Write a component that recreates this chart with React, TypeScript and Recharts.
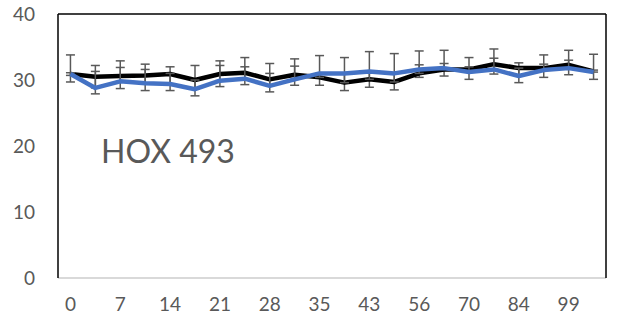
import * as React from "react";
import { LineChart, Line, XAxis, YAxis, ErrorBar, ReferenceLine } from "recharts";

// days (only every other one is labelled on the axis)
const days = ["0", "3", "7", "10", "14", "17", "21", "24", "28", "31", "35", "38", "43", "49", "56", "63", "70", "77", "84", "91", "99", "106"];

const blackLine = [30.9, 30.5, 30.6, 30.7, 30.9, 30.0, 30.9, 31.1, 30.1, 30.8, 30.4, 29.6, 30.1, 29.7, 31.0, 31.6, 31.6, 32.4, 31.8, 31.8, 32.3, 31.3];
const blueLine = [30.9, 28.8, 29.8, 29.5, 29.4, 28.6, 29.9, 30.2, 29.1, 30.1, 31.0, 31.0, 31.3, 31.0, 31.6, 31.8, 31.2, 31.6, 30.6, 31.5, 31.8, 31.2];

// error bars as [minus, plus]
const blackErrLow = [0.2, 1.7, 0.8, 1.2, 1.5, 1.4, 1.0, 0.9, 1.0, 0.7, 1.2, 1.2, 1.2, 1.2, 0.6, 1.0, 0.4, 0.8, 1.2, 0.3, 0.5, 0.1];
const blackErrHigh = [2.9, 1.7, 2.3, 1.7, 1.1, 2.2, 2.0, 2.3, 2.4, 2.4, 0.6, 1.4, 1.2, 1.3, 1.3, 0.9, 1.8, 2.3, 0.8, 2.0, 2.2, 2.6];
const blueErrLow = [1.2, 0.9, 1.1, 1.1, 1.0, 1.0, 0.9, 0.9, 0.9, 0.9, 0.6, 1.4, 1.2, 1.3, 0.6, 0.2, 1.1, 0.7, 1.0, 1.1, 1.0, 1.1];
const blueErrHigh = [0.2, 2.5, 2.1, 2.1, 1.6, 1.4, 2.3, 1.8, 1.9, 2.0, 2.7, 2.4, 3.0, 3.0, 2.8, 2.7, 0.8, 1.7, 1.2, 0.9, 1.2, 0.3];

const yTicks = [0, 10, 20, 30, 40];

const data = days.map((day, i) => ({
  day,
  black: blackLine[i],
  blue: blueLine[i],
  blackErr: [blackErrLow[i], blackErrHigh[i]],
  blueErr: [blueErrLow[i], blueErrHigh[i]],
}));

const FONT = "Lato, 'Open Sans', sans-serif";
const tickStyle = { fill: "#595959", fontSize: 19, fontFamily: FONT };

export default function App() {
  return (
    <div style={{ position: "absolute", left: 0, top: 0, width: 621, height: 316, background: "#fff" }}>
      <LineChart width={621} height={316} data={data} margin={{ top: 14, right: 14, bottom: 0, left: 0 }}>
        <XAxis
          xAxisId="bottom"
          dataKey="day"
          interval={1}
          height={38}
          padding={{ left: 12.45, right: 12.45 }}
          tickLine={false}
          tickSize={0}
          tickMargin={20}
          axisLine={{ stroke: "#D9D9D9", strokeWidth: 2 }}
          tick={tickStyle}
        />
        <YAxis
          yAxisId="left"
          domain={[0, 40]}
          ticks={yTicks}
          width={58}
          tickLine={false}
          tickSize={0}
          tickMargin={23}
          axisLine={{ stroke: "#000", strokeWidth: 1.5 }}
          tick={tickStyle}
        />
        <YAxis
          yAxisId="right"
          orientation="right"
          domain={[0, 40]}
          ticks={yTicks}
          width={1}
          tick={false}
          tickLine={false}
          axisLine={{ stroke: "#000", strokeWidth: 1.5 }}
        />
        <ReferenceLine xAxisId="bottom" yAxisId="left" y={40} stroke="#000" strokeWidth={1.5} />
        <Line
          xAxisId="bottom"
          yAxisId="left"
          dataKey="black"
          stroke="#000"
          strokeWidth={4.5}
          dot={false}
          strokeLinejoin="round"
          isAnimationActive={false}
        >
          <ErrorBar dataKey="blackErr" direction="y" width={4.5} stroke="#595959" strokeWidth={1.5} isAnimationActive={false} />
        </Line>
        <Line
          xAxisId="bottom"
          yAxisId="left"
          dataKey="blue"
          stroke="#4472C4"
          strokeWidth={4.5}
          dot={false}
          strokeLinejoin="round"
          isAnimationActive={false}
        >
          <ErrorBar dataKey="blueErr" direction="y" width={4.5} stroke="#595959" strokeWidth={1.5} isAnimationActive={false} />
        </Line>
      </LineChart>
      <div
        style={{
          position: "absolute",
          left: 101,
          top: 131,
          fontFamily: FONT,
          fontSize: 32,
          color: "#595959",
          lineHeight: "40px",
          whiteSpace: "nowrap",
        }}
      >
        HOX 493
      </div>
    </div>
  );
}
